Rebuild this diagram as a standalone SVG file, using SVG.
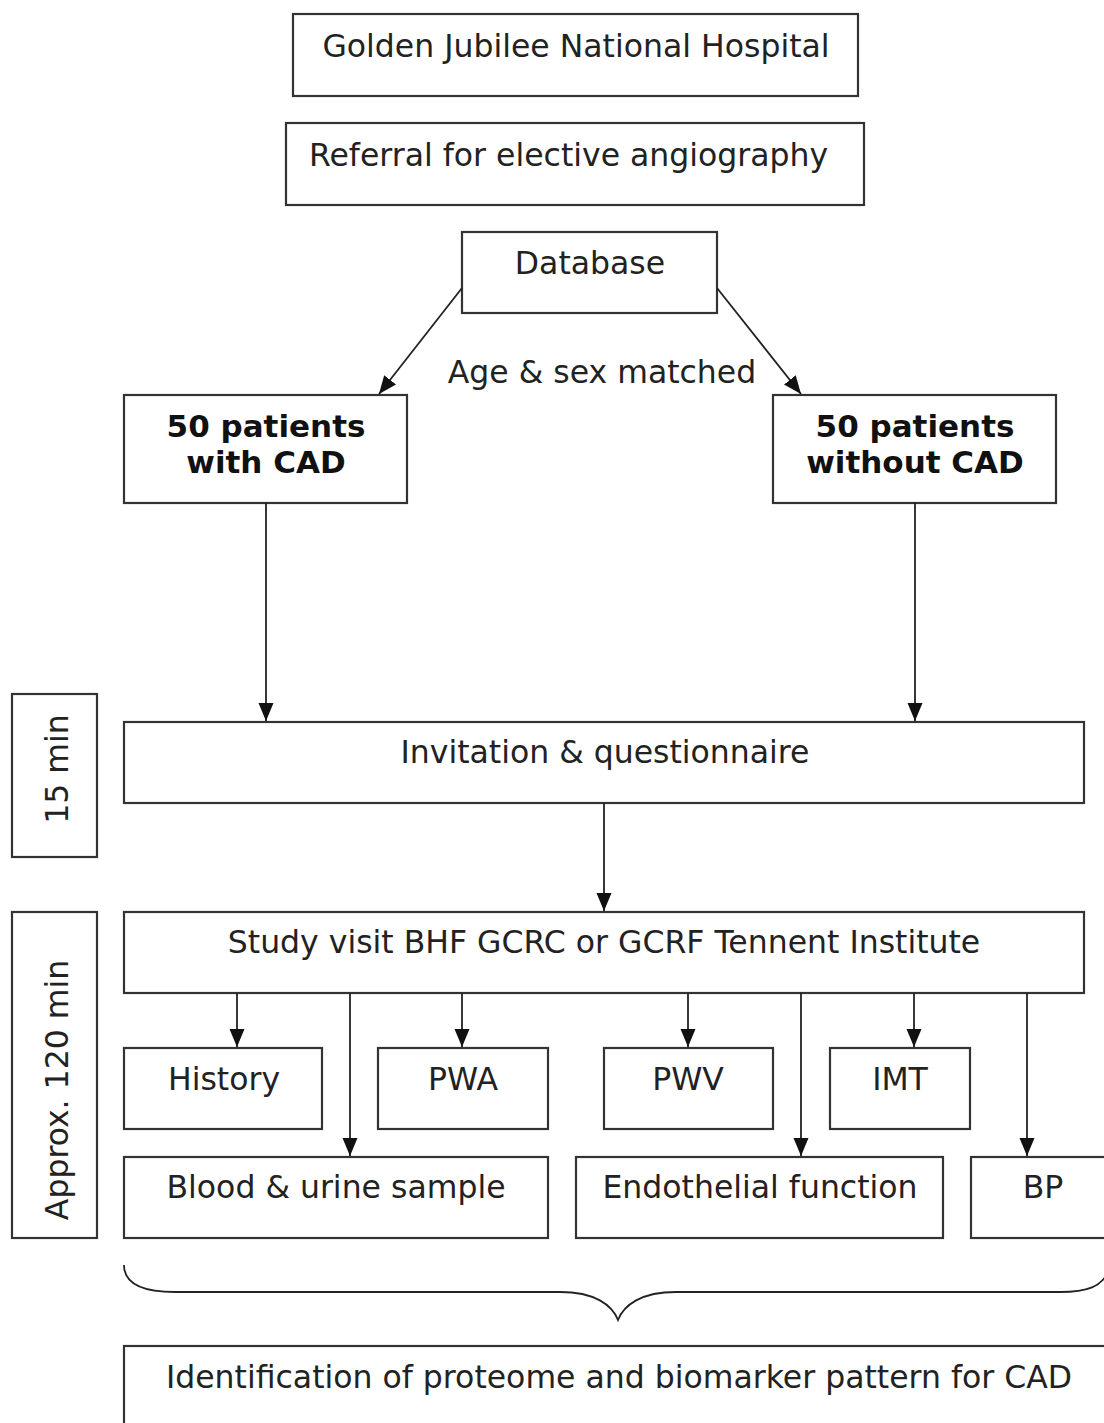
<svg xmlns="http://www.w3.org/2000/svg" width="1104" height="1423" viewBox="0 0 1104 1423">
<style>
.box{fill:#fff;stroke:#333;stroke-width:2.2}
.t{font-family:"DejaVu Sans",Verdana,sans-serif;font-size:31.5px;fill:#222}
.c{text-anchor:middle}
.b{font-weight:bold;font-size:31px;fill:#111}
.ln{stroke:#222;stroke-width:1.8;fill:none}
</style>
<defs>
<marker id="ah" viewBox="0 0 18 16" refX="18" refY="8" markerWidth="18" markerHeight="16" markerUnits="userSpaceOnUse" orient="auto">
<path d="M0,0.5 L18,8 L0,15.5 Z" fill="#111"/>
</marker>
</defs>
<rect width="1104" height="1423" fill="#fff"/>
<g id="hospital"><rect class="box" x="293" y="14" width="565" height="82"/><text class="t c" x="576" y="57">Golden Jubilee National Hospital</text></g>
<g id="referral"><rect class="box" x="286" y="123" width="578" height="82"/><text class="t" x="309" y="166">Referral for elective angiography</text></g>
<g id="database"><rect class="box" x="462" y="232" width="255" height="81"/><text class="t c" x="590" y="274">Database</text></g>
<g id="matched-label"><text class="t c" x="602" y="383">Age &amp; sex matched</text></g>
<g id="with-cad"><rect class="box" x="124" y="395" width="283" height="108"/><text class="t c b" x="266" y="437">50 patients</text><text class="t c b" x="266" y="473">with CAD</text></g>
<g id="without-cad"><rect class="box" x="773" y="395" width="283" height="108"/><text class="t c b" x="915" y="437">50 patients</text><text class="t c b" x="915" y="473">without CAD</text></g>
<g id="time15"><rect class="box" x="12" y="694" width="85" height="163"/><text class="t c" transform="translate(68,769) rotate(-90)">15 min</text></g>
<g id="invitation"><rect class="box" x="124" y="722" width="960" height="81"/><text class="t c" x="605" y="763">Invitation &amp; questionnaire</text></g>
<g id="time120"><rect class="box" x="12" y="912" width="85" height="326"/><text class="t c" transform="translate(68,1090) rotate(-90)">Approx. 120 min</text></g>
<g id="study-visit"><rect class="box" x="124" y="912" width="960" height="81"/><text class="t c" x="604" y="953">Study visit BHF GCRC or GCRF Tennent Institute</text></g>
<g id="history"><rect class="box" x="124" y="1048" width="198" height="81"/><text class="t c" x="224" y="1090">History</text></g>
<g id="pwa"><rect class="box" x="378" y="1048" width="170" height="81"/><text class="t c" x="463" y="1090">PWA</text></g>
<g id="pwv"><rect class="box" x="604" y="1048" width="169" height="81"/><text class="t c" x="688" y="1090">PWV</text></g>
<g id="imt"><rect class="box" x="830" y="1048" width="140" height="81"/><text class="t c" x="900" y="1090">IMT</text></g>
<g id="blood"><rect class="box" x="124" y="1157" width="424" height="81"/><text class="t c" x="336" y="1198">Blood &amp; urine sample</text></g>
<g id="endothelial"><rect class="box" x="576" y="1157" width="367" height="81"/><text class="t c" x="760" y="1198">Endothelial function</text></g>
<g id="bp"><rect class="box" x="971" y="1157" width="140" height="81"/><text class="t c" x="1043" y="1198">BP</text></g>
<g id="outcome"><rect class="box" x="124" y="1346" width="990" height="90"/><text class="t c" x="619" y="1388">Identification of proteome and biomarker pattern for CAD</text></g>
<g id="connectors">
<line class="ln" x1="462" y1="288" x2="379" y2="394" marker-end="url(#ah)"/>
<line class="ln" x1="717" y1="288" x2="801" y2="394" marker-end="url(#ah)"/>
<line class="ln" x1="266" y1="503" x2="266" y2="721" marker-end="url(#ah)"/>
<line class="ln" x1="915" y1="503" x2="915" y2="721" marker-end="url(#ah)"/>
<line class="ln" x1="604" y1="803" x2="604" y2="911" marker-end="url(#ah)"/>
<line class="ln" x1="237" y1="993" x2="237" y2="1047" marker-end="url(#ah)"/>
<line class="ln" x1="350" y1="993" x2="350" y2="1156" marker-end="url(#ah)"/>
<line class="ln" x1="462" y1="993" x2="462" y2="1047" marker-end="url(#ah)"/>
<line class="ln" x1="688" y1="993" x2="688" y2="1047" marker-end="url(#ah)"/>
<line class="ln" x1="801" y1="993" x2="801" y2="1156" marker-end="url(#ah)"/>
<line class="ln" x1="914" y1="993" x2="914" y2="1047" marker-end="url(#ah)"/>
<line class="ln" x1="1027" y1="993" x2="1027" y2="1156" marker-end="url(#ah)"/>
<path class="ln" d="M124,1265 C124,1282 140,1292 175,1292 L560,1292 C595,1292 612,1305 618,1320 C624,1305 641,1292 676,1292 L1060,1292 C1090,1292 1100,1285 1106,1276"/>
</g>
</svg>
